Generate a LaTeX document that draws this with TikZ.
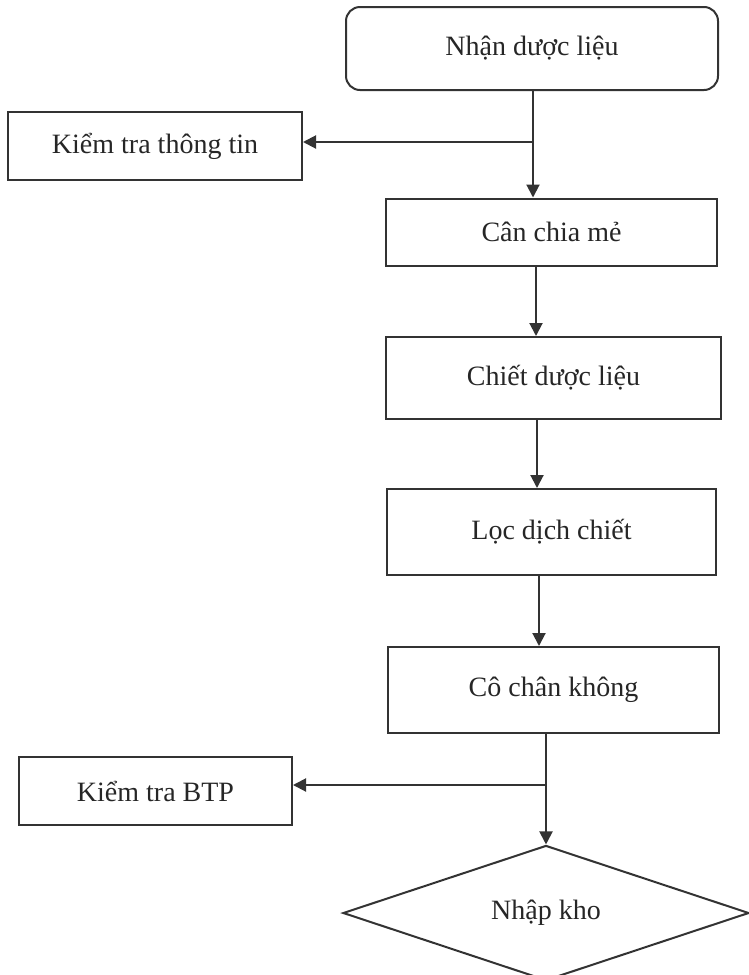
\documentclass[tikz,border=0pt]{standalone}
\usepackage{fontspec}
\setmainfont{Liberation Serif}
\usetikzlibrary{shapes.geometric,arrows.meta}
\tikzset{
  box/.style={draw=black!80, line width=2pt, minimum height=#1, inner sep=0pt, text=black!85,
    font=\fontsize{28}{33}\selectfont},
  box/.default=69pt,
  arr/.style={line width=2pt, draw=black!80, -{Triangle[length=13pt,width=13pt]}}
}
\begin{document}
\begin{tikzpicture}[x=1pt,y=-1pt]
\useasboundingbox (0,0) rectangle (749,975);
\node[box=83pt, rounded corners=14pt, minimum width=372pt] (nhan) at (532,48.5) {Nhận dược liệu};
\node[box=68pt, minimum width=294pt] (kiemtt) at (155,146) {Kiểm tra thông tin};
\node[box=67pt, minimum width=331pt] (can) at (551.5,232) {Cân chia mẻ};
\node[box=82pt, minimum width=335pt] (chiet) at (553.5,378) {Chiết dược liệu};
\node[box=86pt, minimum width=329pt] (loc) at (551.5,532) {Lọc dịch chiết};
\node[box=86pt, minimum width=331pt] (co) at (553.5,690) {Cô chân không};
\node[box=68pt, minimum width=273pt] (kiembtp) at (155.5,791) {Kiểm tra BTP};
\node[box=132pt, diamond, minimum width=406pt] (nhapkho) at (546,913) {Nhập kho};
% x positions of the vertical arrows
\coordinate (xa) at (533,0);
\coordinate (xb) at (536,0);
\coordinate (xc) at (537,0);
\coordinate (xd) at (539,0);
\coordinate (xe) at (546,0);
\draw[arr] (nhan.south -| xa) -- (can.north -| xa);
\draw[arr] ([yshift=4pt]kiemtt.east -| xa) -- ([yshift=4pt]kiemtt.east);
\draw[arr] (can.south -| xb) -- (chiet.north -| xb);
\draw[arr] (chiet.south -| xc) -- (loc.north -| xc);
\draw[arr] (loc.south -| xd) -- (co.north -| xd);
\draw[arr] (co.south -| xe) -- (nhapkho.north);
\draw[arr] ([yshift=6pt]kiembtp.east -| xe) -- ([yshift=6pt]kiembtp.east);
\end{tikzpicture}
\end{document}
